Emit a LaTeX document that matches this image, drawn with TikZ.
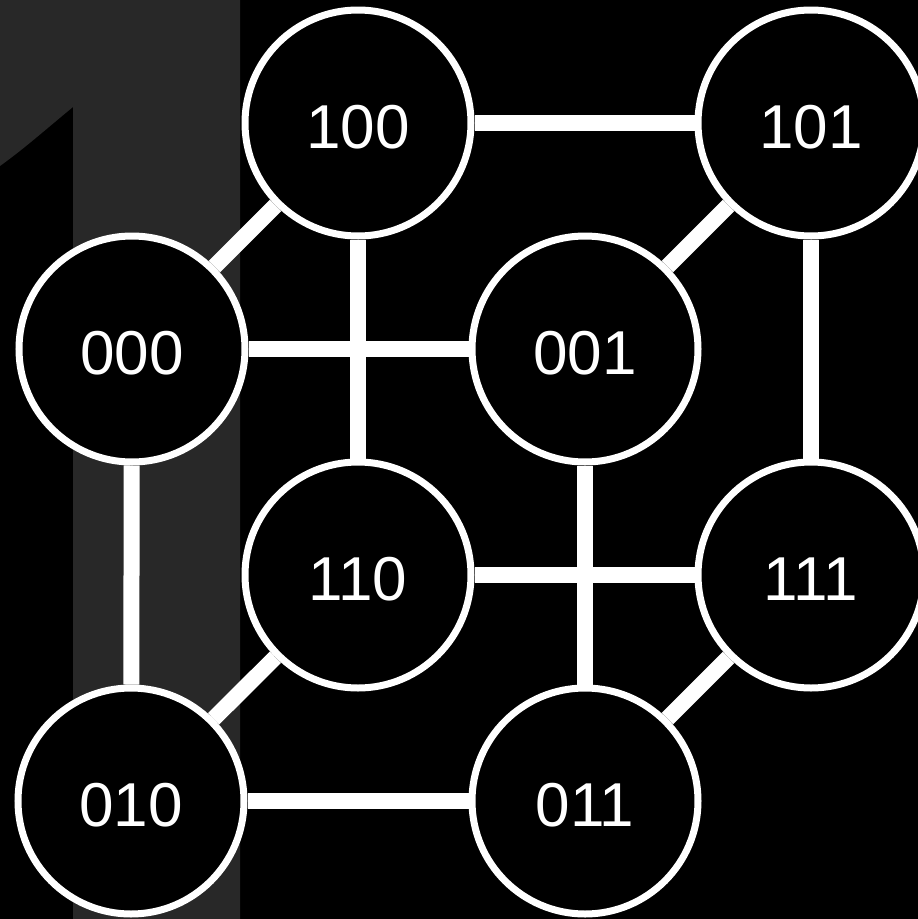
\documentclass[tikz,border=0pt]{standalone}
\usepackage{fontspec}
\setmainfont{Liberation Sans}
\usetikzlibrary{backgrounds}
\definecolor{onegray}{RGB}{40,40,40}
\begin{document}
\begin{tikzpicture}[x=1pt,y=-1pt,
  vertex/.style={circle,draw=white,fill=black,line width=7pt,minimum size=226pt,inner sep=0pt,text=white,text height=50pt,text depth=0pt,font=\fontsize{62}{62}\selectfont},
  edge/.style={draw=white,line width=16pt}]
\useasboundingbox (0,0) rectangle (918,919);
\node[vertex] (n100) at (358,123) {100};
\node[vertex] (n101) at (811,123) {101};
\node[vertex] (n000) at (132,349) {000};
\node[vertex] (n001) at (585,349) {001};
\node[vertex] (n110) at (358,575) {110};
\node[vertex] (n111) at (811,575) {111};
\node[vertex] (n010) at (131,801) {010};
\node[vertex] (n011) at (585,801) {011};
\begin{scope}[on background layer]
\fill[black] (0,0) rectangle (918,919);
\fill[onegray] (0,0) -- (240,0) -- (240,919) -- (73,919) -- (73,107) .. controls (45,130) and (25,148) .. (0,166) -- cycle;
\path[edge] (n100) -- (n101);
\path[edge] (n100) -- (n000);
\path[edge] (n100) -- (n110);
\path[edge] (n101) -- (n001);
\path[edge] (n101) -- (n111);
\path[edge] (n000) -- (n001);
\path[edge] (n000) -- (n010);
\path[edge] (n001) -- (n011);
\path[edge] (n110) -- (n111);
\path[edge] (n110) -- (n010);
\path[edge] (n111) -- (n011);
\path[edge] (n010) -- (n011);
\end{scope}
\end{tikzpicture}
\end{document}
